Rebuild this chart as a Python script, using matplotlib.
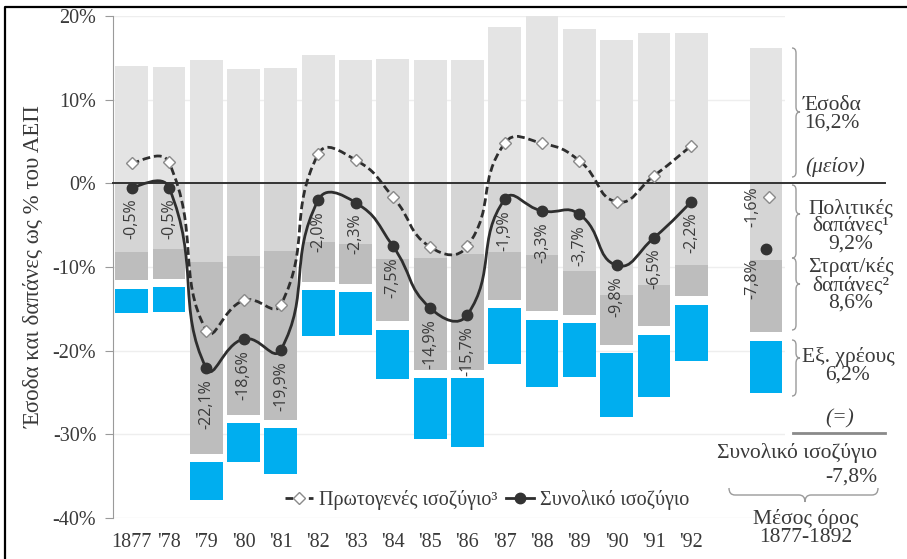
import numpy as np
import matplotlib
matplotlib.use("Agg")
import matplotlib.pyplot as plt
from matplotlib.path import Path
from matplotlib.patches import PathPatch
from matplotlib.lines import Line2D

# data (% of GDP)
years = ["1877", "'78", "'79", "'80", "'81", "'82", "'83", "'84",
         "'85", "'86", "'87", "'88", "'89", "'90", "'91", "'92"]
revenue = [14.0, 13.9, 14.7, 13.7, 13.8, 15.3, 14.8, 14.9,
           14.7, 14.8, 18.7, 20.0, 18.4, 17.1, 18.0, 18.0]
political = [8.2, 7.9, 9.4, 8.7, 8.1, 7.0, 7.2, 9.0,
             8.9, 8.5, 8.2, 8.6, 10.5, 13.4, 12.1, 9.8]
military = [3.4, 3.5, 22.9, 19.0, 20.2, 4.8, 4.8, 7.5,
            13.4, 13.8, 5.7, 6.7, 5.2, 5.9, 5.0, 3.7]
debt = [2.9, 3.0, 4.5, 4.6, 5.4, 5.5, 5.1, 5.9,
        7.3, 8.2, 6.7, 8.1, 6.4, 7.6, 7.4, 6.7]
primary = [2.4, 2.5, -17.6, -14.0, -14.5, 3.5, 2.8, -1.6,
           -7.6, -7.5, 4.8, 4.8, 2.7, -2.2, 0.9, 4.5]
overall = [-0.5, -0.5, -22.1, -18.6, -19.9, -2.0, -2.3, -7.5,
           -14.9, -15.7, -1.9, -3.3, -3.7, -9.8, -6.5, -2.2]

# average 1877-1892
avg_revenue = 16.2
avg_political = 9.2
avg_military = 8.6
avg_debt = 6.2
avg_primary = -1.6
avg_overall = -7.8

C_REV = "#e4e4e4"
C_POL = "#d5d5d5"
C_MIL = "#bdbdbd"
C_DEBT = "#00aeef"
C_TXT = "#3a3a3a"
GAP = 1.0  # white gap above the debt block
SERIF = ["Liberation Serif", "DejaVu Serif"]
LBL = ["Open Sans", "DejaVu Sans"]

W, H = 907, 559
SX, SY = 37.3, 8.37  # px per x unit / per 1%


def fx(x):
    return x / W


def fy(y):
    return 1 - y / H


def smooth_path(xs, ys, k=0.5):
    # bezier smoothing, tangents weighted by on-screen segment lengths
    pts = np.column_stack([xs, ys]).astype(float)
    n = len(pts)
    scale = np.array([SX, SY])

    def dist(a, b):
        return np.hypot(*((a - b) * scale))

    verts = [pts[0]]
    codes = [Path.MOVETO]
    for i in range(n - 1):
        p1, p2 = pts[i], pts[i + 1]
        d12 = dist(p1, p2)
        if i > 0:
            p0 = pts[i - 1]
            d01 = dist(p0, p1)
            c1 = p1 + (p2 - p0) * k * d12 / (d01 + d12)
        else:
            c1 = p1 + (p2 - p1) / 3 * k
        if i + 2 < n:
            p3 = pts[i + 2]
            d23 = dist(p2, p3)
            c2 = p2 - (p3 - p1) * k * d12 / (d12 + d23)
        else:
            c2 = p2 - (p2 - p1) / 3 * k
        verts += [c1, c2, p2]
        codes += [Path.CURVE4] * 3
    return Path(verts, codes)


def vbrace(fig, x, y0, y1, ym, w=8, r=5):
    # right curly brace, pixel coords
    h = w / 2
    v = [(x, y0), (x + h, y0), (x + h, y0 + r),
         (x + h, ym - r), (x + h, ym), (x + w, ym),
         (x + h, ym), (x + h, ym + r),
         (x + h, y1 - r), (x + h, y1), (x, y1)]
    c = [Path.MOVETO, Path.CURVE3, Path.CURVE3,
         Path.LINETO, Path.CURVE3, Path.CURVE3,
         Path.CURVE3, Path.CURVE3,
         Path.LINETO, Path.CURVE3, Path.CURVE3]
    v = [(fx(a), fy(b)) for a, b in v]
    fig.add_artist(PathPatch(Path(v, c), fill=False, ec="#9a9a9a", lw=1.0,
                             transform=fig.transFigure))


def hbrace(fig, x0, x1, xm, y, w=14, r=6):
    # downward brace, pixel coords
    h = w / 2
    v = [(x0, y), (x0, y + h), (x0 + r, y + h),
         (xm - r, y + h), (xm, y + h), (xm, y + w),
         (xm, y + h), (xm + r, y + h),
         (x1 - r, y + h), (x1, y + h), (x1, y)]
    c = [Path.MOVETO, Path.CURVE3, Path.CURVE3,
         Path.LINETO, Path.CURVE3, Path.CURVE3,
         Path.CURVE3, Path.CURVE3,
         Path.LINETO, Path.CURVE3, Path.CURVE3]
    v = [(fx(a), fy(b)) for a, b in v]
    fig.add_artist(PathPatch(Path(v, c), fill=False, ec="#9a9a9a", lw=1.0,
                             transform=fig.transFigure))


def pct(v):
    return f"{v:.1f}%".replace(".", ",")


fig = plt.figure(figsize=(9.07, 5.59), dpi=100)
ax = fig.add_axes([fx(113), fy(518), fx(784.6) - fx(113), fy(16) - fy(518)])

x = np.arange(len(years))
avg_x = 17
bw = 0.88

# bars
pol_neg = -np.array(political)
mil_neg = -np.array(military)
ax.bar(x, revenue, bw, color=C_REV, zorder=2)
ax.bar(x, pol_neg, bw, color=C_POL, zorder=2)
ax.bar(x, mil_neg, bw, bottom=pol_neg, color=C_MIL, zorder=2)
ax.bar(x, -np.array(debt), bw, bottom=pol_neg + mil_neg - GAP, color=C_DEBT, zorder=2)

ax.bar(avg_x, avg_revenue, bw, color=C_REV, zorder=2)
ax.bar(avg_x, -avg_political, bw, color=C_POL, zorder=2)
ax.bar(avg_x, -avg_military, bw, bottom=-avg_political, color=C_MIL, zorder=2)
ax.bar(avg_x, -avg_debt, bw, bottom=-avg_political - avg_military - GAP,
       color=C_DEBT, zorder=2)

# smoothed lines
dash = (0, (2.8, 1.4))
ax.add_patch(PathPatch(smooth_path(x, primary), fill=False, ec="#2e2e2e",
                       lw=2.0, ls=dash, zorder=4))
ax.add_patch(PathPatch(smooth_path(x, overall), fill=False, ec="#2e2e2e",
                       lw=2.0, zorder=4))
ax.plot(x, primary, ls="none", marker="D", ms=6.5, mfc="white", mec="#8a8a8a",
        mew=1.0, zorder=5)
ax.plot(x, overall, ls="none", marker="o", ms=7.5, color="#333333", zorder=5)
ax.plot([avg_x + 0.08], [avg_primary], ls="none", marker="D", ms=6.5, mfc="white",
        mec="#8a8a8a", mew=1.0, zorder=5)
ax.plot([avg_x], [avg_overall], ls="none", marker="o", ms=7.5, color="#333333",
        zorder=5)

# data labels
for xi, v in zip(x, overall):
    ax.annotate(pct(v), (xi, v), xytext=(0, -8), textcoords="offset points",
                rotation=90, ha="center", va="top", fontsize=11.5,
                family=LBL, color=C_TXT, zorder=3)
ax.annotate(pct(avg_primary), (avg_x, avg_primary), xytext=(-10, -7),
            textcoords="offset points", rotation=90, ha="center", va="center",
            fontsize=11.5, family=LBL, color=C_TXT, zorder=3)
ax.annotate(pct(avg_overall), (avg_x, avg_overall), xytext=(-10, -22),
            textcoords="offset points", rotation=90, ha="center", va="center",
            fontsize=11.5, family=LBL, color=C_TXT, zorder=3)

# axes styling
ax.set_xlim(-0.5, 17.5)
ax.set_ylim(-40, 20)
ax.set_yticks([20, 10, 0, -10, -20, -30, -40])
ax.set_yticklabels([f"{t}%" for t in [20, 10, 0, -10, -20, -30, -40]],
                   family=SERIF, fontsize=14.5, color=C_TXT)
ax.set_xticks(x)
ax.set_xticklabels(years, family=SERIF, fontsize=14.5, color=C_TXT)
ax.tick_params(axis="x", length=0, pad=11)
ax.tick_params(axis="y", length=6, color="#9a9a9a", pad=6)
for s in ["top", "right", "bottom"]:
    ax.spines[s].set_visible(False)
ax.spines["left"].set_color("#9a9a9a")
ax.yaxis.grid(True, color="#eeeeee", lw=1.0, zorder=0)
ax.set_axisbelow(True)
ax.plot([0, 1.15], [0, 0], transform=ax.get_yaxis_transform(), color="#333333",
        lw=1.4, clip_on=False, zorder=3)
ax.set_ylabel("Έσοδα και δαπάνες ως % του ΑΕΠ", family=SERIF, fontsize=16.5,
              color=C_TXT, labelpad=6)

leg_handles = [
    Line2D([], [], color="#2e2e2e", lw=2.0, ls=dash, marker="D", ms=6.5,
           mfc="white", mec="#8a8a8a"),
    Line2D([], [], color="#2e2e2e", lw=2.0, marker="o", ms=7.5, mfc="#333333",
           mec="#333333"),
]
ax.legend(leg_handles, ["Πρωτογενές ισοζύγιο³", "Συνολικό ισοζύγιο"], ncol=2,
          frameon=False, loc="center", bbox_to_anchor=(0.557, 0.036),
          prop={"family": SERIF, "size": 14.5}, handlelength=1.4,
          handletextpad=0.3, columnspacing=0.4, labelcolor=C_TXT)

# right side annotation
tk = dict(family=SERIF, fontsize=15.5, color=C_TXT, ha="center", va="center",
          linespacing=0.92)
fig.text(fx(832), fy(114), "Έσοδα\n" + pct(avg_revenue), **tk)
fig.text(fx(835), fy(167), "(μείον)", style="italic", **tk)
fig.text(fx(851), fy(226), "Πολιτικές\nδαπάνες¹\n" + pct(avg_political), **tk)
fig.text(fx(851), fy(285), "Στρατ/κές\nδαπάνες²\n" + pct(avg_military), **tk)
fig.text(fx(848), fy(366), "Εξ. χρέους\n" + pct(avg_debt), **tk)
fig.text(fx(840), fy(419), "(=)", style="italic", **tk)
fig.text(fx(877), fy(453), "Συνολικό ισοζύγιο", **dict(tk, ha="right"))
fig.text(fx(877), fy(477), pct(avg_overall), **dict(tk, ha="right"))
fig.text(fx(806), fy(528), "Μέσος όρος\n1877-1892", **tk)

vbrace(fig, 792, 48, 177, 112)
vbrace(fig, 792, 185, 258, 214)
vbrace(fig, 792, 258, 330, 284)
vbrace(fig, 792, 340, 396, 358)
hbrace(fig, 729, 878, 805, 488)
fig.add_artist(Line2D([fx(793), fx(885)], [fy(433), fy(433)], color="#8a8a8a",
                      lw=2.0, transform=fig.transFigure))

# frame around the figure
fig.add_artist(Line2D([fx(4.5), fx(4.5), fx(910)], [fy(565), fy(7), fy(7)],
                      color="black", lw=1.6, transform=fig.transFigure))

fig.savefig("out.png", dpi=100)
